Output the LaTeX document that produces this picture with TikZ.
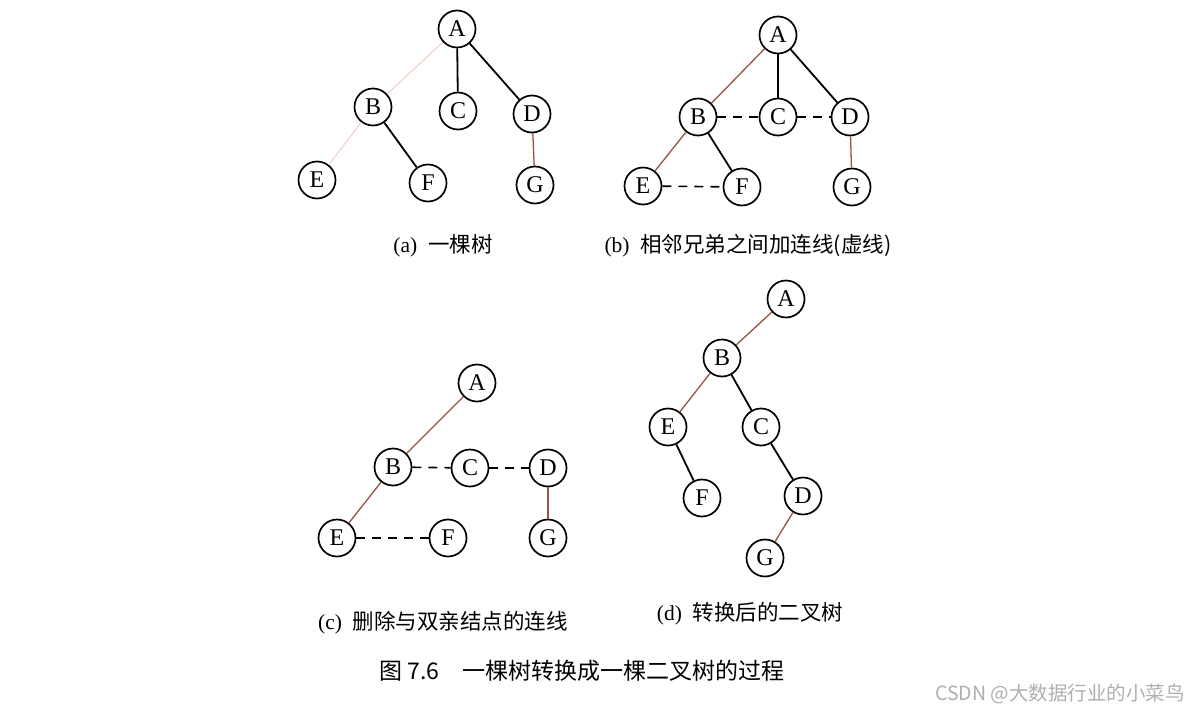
\documentclass[tikz,border=0pt]{standalone}
\usepackage{fontspec}
\setmainfont{Liberation Serif}
\newfontfamily\cjk{Noto Sans CJK SC}
\usepackage{xcolor}
\usetikzlibrary{positioning}
\definecolor{brownedge}{RGB}{150,85,65}
\definecolor{paleedge}{RGB}{240,205,195}
\definecolor{markgray}{RGB}{175,175,175}

\begin{document}
\begin{tikzpicture}[x=1pt, y=-1pt,
    vtx/.style={draw, circle, line width=1.7pt, minimum size=37pt, inner sep=0pt,
      font=\fontsize{24}{24}\selectfont},
    edge/.style={line width=1.8pt},
    redge/.style={line width=1.3pt, brownedge},
    pedge/.style={line width=1pt, paleedge},
    sib/.style={line width=1.6pt, dash pattern=on 9pt off 7pt},
    subcap/.style={font=\fontsize{21.5}{21.5}\selectfont, inner sep=0pt}]
  \useasboundingbox (0,0) rectangle (1199,715);
  % (a) the tree
  \node[vtx] (aA) at (457,29) {A};
  \node[vtx] (aB) at (373,107) {B};
  \node[vtx] (aC) at (458,111) {C};
  \node[vtx] (aD) at (532,114) {D};
  \node[vtx] (aE) at (317,180) {E};
  \node[vtx] (aF) at (428,183) {F};
  \node[vtx] (aG) at (535,185) {G};
  \draw[pedge] (aA) -- (aB);
  \draw[edge] (aA) -- (aC);
  \draw[edge] (aA) -- (aD);
  \draw[pedge] (aB) -- (aE);
  \draw[edge] (aB) -- (aF);
  \draw[redge] (aD) -- (aG);
  \node[subcap] (capa) at (443,246) {(a)\ \ {\cjk 一棵树}};
  % (b) siblings linked
  \node[vtx] (bA) at (778,35) {A};
  \node[vtx] (bB) at (698,117) {B};
  \node[vtx] (bC) at (778,117) {C};
  \node[vtx] (bD) at (850,117) {D};
  \node[vtx] (bE) at (643,186) {E};
  \node[vtx] (bF) at (742,187) {F};
  \node[vtx] (bG) at (852,187) {G};
  \draw[redge] (bA) -- (bB);
  \draw[edge] (bA) -- (bC);
  \draw[edge] (bA) -- (bD);
  \draw[redge] (bB) -- (bE);
  \draw[edge] (bB) -- (bF);
  \draw[redge] (bD) -- (bG);
  \draw[sib] (bB) -- (bC);
  \draw[sib] (bC) -- (bD);
  \draw[sib] (bE) -- (bF);
  \node[subcap] (capb) at (748,246) {(b)\ \ {\cjk 相邻兄弟之间加连线(虚线)}};
  % (c) parent links removed
  \node[vtx] (cA) at (477,383) {A};
  \node[vtx] (cB) at (393,467) {B};
  \node[vtx] (cC) at (470,468) {C};
  \node[vtx] (cD) at (548,468) {D};
  \node[vtx] (cE) at (337,538) {E};
  \node[vtx] (cF) at (448,538) {F};
  \node[vtx] (cG) at (548,538) {G};
  \draw[redge] (cA) -- (cB);
  \draw[redge] (cB) -- (cE);
  \draw[redge] (cD) -- (cG);
  \draw[sib] (cB) -- (cC);
  \draw[sib] (cC) -- (cD);
  \draw[sib] (cE) -- (cF);
  \node[subcap] (capc) at (443,623) {(c)\ \ {\cjk 删除与双亲结点的连线}};
  % (d) binary tree
  \node[vtx] (dA) at (786,299) {A};
  \node[vtx] (dB) at (722,358) {B};
  \node[vtx] (dE) at (668,427) {E};
  \node[vtx] (dC) at (761,427) {C};
  \node[vtx] (dF) at (702,498) {F};
  \node[vtx] (dD) at (803,496) {D};
  \node[vtx] (dG) at (765,558) {G};
  \draw[redge] (dA) -- (dB);
  \draw[redge] (dB) -- (dE);
  \draw[edge] (dB) -- (dC);
  \draw[edge] (dE) -- (dF);
  \draw[edge] (dC) -- (dD);
  \draw[redge] (dD) -- (dG);
  \node[subcap] (capd) at (750,614) {(d)\ \ {\cjk 转换后的二叉树}};
  % figure caption
  \node[font=\fontsize{23}{23}\selectfont\cjk, inner sep=0pt] (title) at (582,671)
    {图 7.6\quad 一棵树转换成一棵二叉树的过程};
  \node[font=\fontsize{19.5}{19.5}\selectfont\cjk, text=markgray, inner sep=0pt, anchor=east]
    (mark) at (1185,694) {CSDN @大数据行业的小菜鸟};
\end{tikzpicture}
\end{document}
